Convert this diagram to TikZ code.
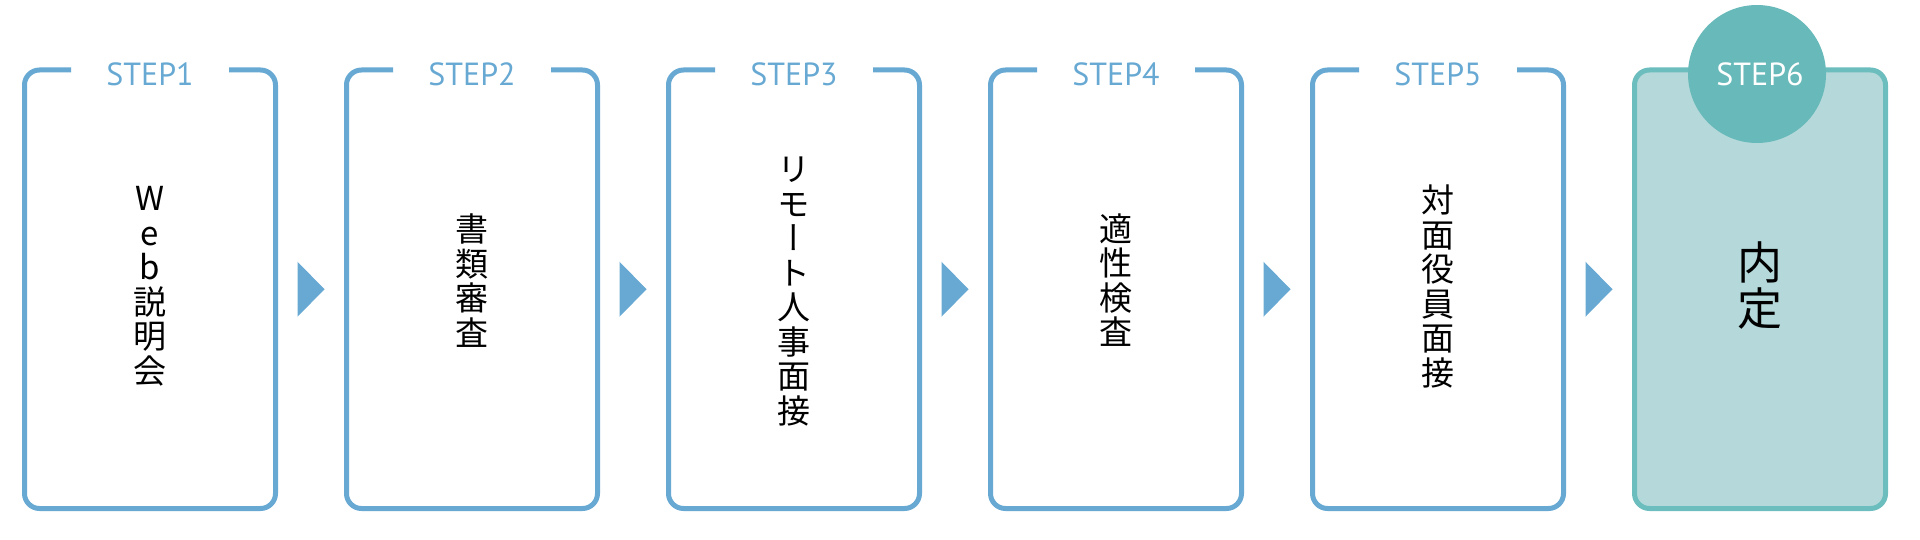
\documentclass[tikz,border=0pt]{standalone}
\usepackage{fontspec}
\newfontfamily\jp[RawFeature=+vert]{Noto Sans CJK JP}
\newfontfamily\stepfont{PT Sans}
\usetikzlibrary{calc}
\definecolor{stepblue}{HTML}{67A9D3}
\definecolor{tealdark}{HTML}{68B9B9}
\definecolor{tealline}{HTML}{6CBDBD}
\definecolor{tealfill}{HTML}{B5D9DA}
\tikzset{
  boxshape/.style={rectangle, draw=none, minimum width=251pt, minimum height=438.5pt, inner sep=0pt, outer sep=0pt},
  boxline/.style={draw=stepblue, line width=5pt, rounded corners=15pt},
  lastbox/.style={draw=tealline, fill=tealfill, line width=5pt, rounded corners=15pt},
  steplabel/.style={text=stepblue, font=\stepfont\fontsize{32}{32}\selectfont, anchor=base, inner sep=0pt},
  vtext/.style={font=\jp\fontsize{33}{34.5}\selectfont, align=center, inner sep=0pt, text=black},
  bigtext/.style={font=\jp\fontsize{45}{46}\selectfont, align=center, inner sep=0pt, text=black},
  arrowmark/.style={fill=stepblue, draw=none},
  stepcircle/.style={circle, fill=tealdark, draw=none, minimum size=138pt, inner sep=0pt}
}
\begin{document}
\begin{tikzpicture}[x=1pt,y=-1pt]
\useasboundingbox (0,0) rectangle (1920,540);
% box nodes
\foreach \i in {1,...,6} {
  \node[boxshape] (b\i) at ({150+322*(\i-1)},289.25) {};
}
% outlines with gap
\foreach \i in {1,...,5} {
  \draw[boxline] ([xshift=79pt]b\i.north) -- (b\i.north east) -- (b\i.south east) -- (b\i.south west) -- (b\i.north west) -- ([xshift=-79pt]b\i.north);
}
\draw[lastbox] (b6.north west) rectangle (b6.south east);
% arrow triangles
\foreach \i/\j in {1/2,2/3,3/4,4/5,5/6} {
  \coordinate (m\i) at ($(b\i.east)!0.5!(b\j.west)$);
  \fill[arrowmark] ($(m\i)+(-13.5,-27.5)$) -- ($(m\i)+(13.5,0)$) -- ($(m\i)+(-13.5,27.5)$) -- cycle;
}
% step labels
\foreach \i in {1,...,5} {
  \node[steplabel] (s\i) at ({150+322*(\i-1)},86) {STEP\i};
}
\node[stepcircle] (c6) at (1757,74) {};
\node[steplabel, text=white] (s6) at (1760,86) {STEP6};
% main texts
\node[vtext] (t1) at (150,286.5) {W\\e\\b\\説\\明\\会};
\node[vtext] (t2) at (472,280.5) {書\\類\\審\\査};
\node[vtext] (t3) at (794,291.5) {リ\\モ\\ー\\ト\\人\\事\\面\\接};
\node[vtext] (t4) at (1116,280) {適\\性\\検\\査};
\node[vtext] (t5) at (1438,286.5) {対\\面\\役\\員\\面\\接};
\node[bigtext] (t6) at (1760,285.5) {内\\定};
\end{tikzpicture}
\end{document}
